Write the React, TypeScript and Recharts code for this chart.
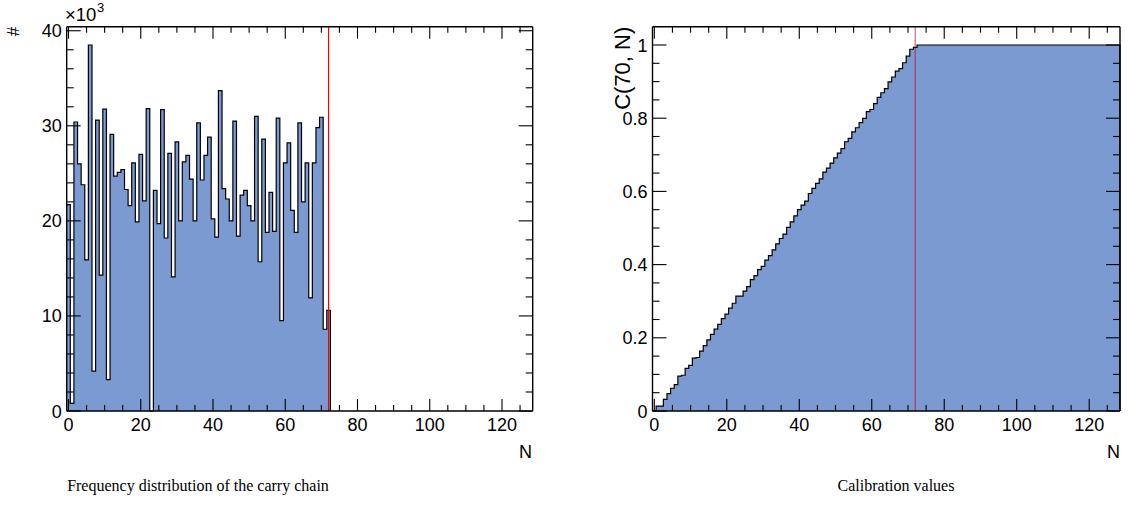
import React from 'react';
import { ComposedChart, Area, XAxis, YAxis, ReferenceLine } from 'recharts';

// ---------------- data ----------------
// Frequency distribution of the carry chain: counts per bin N = 0..72
const freqCounts = [
  21700, 800, 30400, 26000, 23800, 15900, 38500, 4200, 30600, 14300,
  31750, 3300, 29100, 24700, 25100, 25400, 23300, 21600, 26100, 19900,
  27000, 22100, 31800, 0, 23200, 19700, 31700, 18200, 27100, 14100,
  28300, 20000, 26200, 26900, 24400, 20000, 30300, 24300, 26900, 28800,
  20200, 18300, 33700, 23400, 22300, 20000, 30500, 18400, 22700, 23200,
  21600, 20000, 31000, 15700, 28600, 18800, 23000, 18900, 30800, 9500,
  26100, 28200, 21100, 18800, 30300, 22000, 26100, 11900, 26100, 29800,
  30900, 8600, 10600,
];

// Calibration values C(70, N) per bin N = 0..128
const calibration = [
  0, 0.0132, 0.0135, 0.0319, 0.0477, 0.0621, 0.0718, 0.0951, 0.0977, 0.1162,
  0.1249, 0.1442, 0.1462, 0.1638, 0.1788, 0.1941, 0.2095, 0.2236, 0.2367, 0.2525,
  0.2646, 0.281, 0.2944, 0.3137, 0.3137, 0.3278, 0.3397, 0.359, 0.37, 0.3864,
  0.395, 0.4122, 0.4243, 0.4402, 0.4565, 0.4713, 0.4835, 0.5018, 0.5166, 0.5329,
  0.5504, 0.5626, 0.5737, 0.5942, 0.6084, 0.6219, 0.634, 0.6525, 0.6637, 0.6775,
  0.6916, 0.7047, 0.7168, 0.7356, 0.7451, 0.7625, 0.7739, 0.7878, 0.7993, 0.818,
  0.8238, 0.8396, 0.8567, 0.8695, 0.8809, 0.8993, 0.9126, 0.9285, 0.9357, 0.9515,
  0.9696, 0.9884, 0.9936, 1, 1, 1, 1, 1, 1, 1,
  1, 1, 1, 1, 1, 1, 1, 1, 1, 1,
  1, 1, 1, 1, 1, 1, 1, 1, 1, 1,
  1, 1, 1, 1, 1, 1, 1, 1, 1, 1,
  1, 1, 1, 1, 1, 1, 1, 1, 1, 1,
  1, 1, 1, 1, 1, 1, 1, 1, 1,
];

const markerN = 72;
const xDomain: [number, number] = [-0.5, 128.5];
const xTicks = [0, 5, 10, 15, 20, 25, 30, 35, 40, 45, 50, 55, 60, 65, 70, 75, 80, 85, 90, 95, 100, 105, 110, 115, 120, 125];
const freqYMax = 40425;
const freqYTicks = [0, 2000, 4000, 6000, 8000, 10000, 12000, 14000, 16000, 18000, 20000, 22000, 24000, 26000, 28000, 30000, 32000, 34000, 36000, 38000, 40000];
const calYMax = 1.05;
const calYTicks = [0, 0.05, 0.1, 0.15, 0.2, 0.25, 0.3, 0.35, 0.4, 0.45, 0.5, 0.55, 0.6, 0.65, 0.7, 0.75, 0.8, 0.85, 0.9, 0.95, 1];

const leftTitle = 'Frequency distribution of the carry chain';
const rightTitle = 'Calibration values';

// ---------------- styling / layout ----------------
const SANS = '"Liberation Sans", Arial, Helvetica, sans-serif';
const SERIF = '"Liberation Serif", "Times New Roman", serif';
const FILL = '#7b9ad2';
const FRAME = 1.4;
const PLOT_TOP = 26.7;
const PLOT_BOTTOM = 411;
const PLOT_H = PLOT_BOTTOM - PLOT_TOP;
const LEFT_W = 466;
const RIGHT_W = 467.5;

const toSteps = (vals: number[]) =>
  vals.map((v, k) => ({ x: k - 0.5, y: v })).concat([{ x: vals.length - 0.5, y: 0 }]);

const freqData = toSteps(freqCounts);
const calData = toSteps(calibration);

const makeXTick = (plotH: number) => (p: any) => {
  const { x, y, payload } = p;
  const v = payload.value;
  const major = v % 20 === 0;
  const len = major ? 12 : 6;
  return (
    <g>
      <line x1={x} y1={y} x2={x} y2={y - len} stroke="#000" strokeWidth={1.1} />
      <line x1={x} y1={y - plotH} x2={x} y2={y - plotH + len} stroke="#000" strokeWidth={1.1} />
      {major && (
        <text x={x} y={y + 20} textAnchor="middle" fontFamily={SANS} fontSize={18} fill="#000">
          {v}
        </text>
      )}
    </g>
  );
};

const makeYTick = (plotW: number, isMajor: (v: number) => boolean, fmt: (v: number) => string) => (p: any) => {
  const { x, y, payload } = p;
  const v = payload.value;
  const major = isMajor(v);
  const len = major ? 14 : 7;
  return (
    <g>
      <line x1={x} y1={y} x2={x + len} y2={y} stroke="#000" strokeWidth={1.1} />
      <line x1={x + plotW} y1={y} x2={x + plotW - len} y2={y} stroke="#000" strokeWidth={1.1} />
      {major && (
        <text x={x - 5} y={y + 6.5} textAnchor="end" fontFamily={SANS} fontSize={18} fill="#000">
          {fmt(v)}
        </text>
      )}
    </g>
  );
};

const freqYTick = makeYTick(LEFT_W, (v) => v % 10000 === 0, (v) => String(v / 1000));
const calYTick = makeYTick(
  RIGHT_W,
  (v) => Math.abs(v * 5 - Math.round(v * 5)) < 1e-6,
  (v) => (v === 0 ? '0' : v === 1 ? '1' : v.toFixed(1))
);

export default function App() {
  return (
    <div style={{ position: 'absolute', left: 0, top: 0, width: 1129, height: 516, background: '#fff' }}>
      <div style={{ position: 'absolute', left: 0, top: 0 }}>
        <ComposedChart
          width={560}
          height={516}
          data={freqData}
          margin={{ top: PLOT_TOP, right: 560 - 66.7 - LEFT_W, bottom: 516 - PLOT_BOTTOM - 30, left: 6.7 }}
        >
          <Area
            type="stepAfter"
            dataKey="y"
            stroke="#000"
            strokeWidth={1.2}
            fill={FILL}
            fillOpacity={1}
            isAnimationActive={false}
            dot={false}
            activeDot={false}
          />
          <ReferenceLine x={markerN} stroke="#ff0000" strokeWidth={1.2} ifOverflow="visible" />
          <ReferenceLine y={freqYMax} stroke="#000" strokeWidth={FRAME} ifOverflow="visible" />
          <ReferenceLine x={xDomain[1]} stroke="#000" strokeWidth={FRAME} ifOverflow="visible" />
          <XAxis
            dataKey="x"
            type="number"
            domain={xDomain}
            ticks={xTicks}
            interval={0}
            tickSize={0}
            tickMargin={0}
            height={30}
            axisLine={{ stroke: '#000', strokeWidth: FRAME }}
            tickLine={false}
            tick={makeXTick(PLOT_H)}
          />
          <YAxis
            type="number"
            domain={[0, freqYMax]}
            ticks={freqYTicks}
            interval={0}
            tickSize={0}
            tickMargin={0}
            width={60}
            axisLine={{ stroke: '#000', strokeWidth: FRAME }}
            tickLine={false}
            tick={freqYTick}
          />
        </ComposedChart>
      </div>
      <div style={{ position: 'absolute', left: 580, top: 0 }}>
        <ComposedChart
          width={549}
          height={516}
          data={calData}
          margin={{ top: PLOT_TOP, right: 549 - 72.5 - RIGHT_W, bottom: 516 - PLOT_BOTTOM - 30, left: 12.5 }}
        >
          <Area
            type="stepAfter"
            dataKey="y"
            stroke="#000"
            strokeWidth={1.2}
            fill={FILL}
            fillOpacity={1}
            isAnimationActive={false}
            dot={false}
            activeDot={false}
          />
          <ReferenceLine x={markerN} stroke="rgba(190,0,30,0.6)" strokeWidth={1.2} ifOverflow="visible" />
          <ReferenceLine y={calYMax} stroke="#000" strokeWidth={FRAME} ifOverflow="visible" />
          <ReferenceLine x={xDomain[1]} stroke="#000" strokeWidth={FRAME} ifOverflow="visible" />
          <XAxis
            dataKey="x"
            type="number"
            domain={xDomain}
            ticks={xTicks}
            interval={0}
            tickSize={0}
            tickMargin={0}
            height={30}
            axisLine={{ stroke: '#000', strokeWidth: FRAME }}
            tickLine={false}
            tick={makeXTick(PLOT_H)}
          />
          <YAxis
            type="number"
            domain={[0, calYMax]}
            ticks={calYTicks}
            interval={0}
            tickSize={0}
            tickMargin={0}
            width={60}
            axisLine={{ stroke: '#000', strokeWidth: FRAME }}
            tickLine={false}
            tick={calYTick}
          />
        </ComposedChart>
      </div>
      <svg
        width={1129}
        height={516}
        style={{ position: 'absolute', left: 0, top: 0, pointerEvents: 'none' }}
      >
        {/* left chart annotations */}
        <text x={19} y={26.7} transform="rotate(-90 19 26.7)" textAnchor="end" fontFamily={SANS} fontSize={17} fill="#000">
          #
        </text>
        <text x={65} y={21} fontFamily={SANS} fontSize={18.5} fill="#000">
          ×10
        </text>
        <text x={97} y={12} fontFamily={SANS} fontSize={13} fill="#000">
          3
        </text>
        <text x={532} y={458} textAnchor="end" fontFamily={SANS} fontSize={18} fill="#000">
          N
        </text>
        {/* right chart annotations */}
        <text x={630} y={26.7} transform="rotate(-90 630 26.7)" textAnchor="end" fontFamily={SANS} fontSize={22} fill="#000">
          C(70, N)
        </text>
        <text x={1120} y={458} textAnchor="end" fontFamily={SANS} fontSize={18} fill="#000">
          N
        </text>
        {/* captions */}
        <text x={198} y={491} textAnchor="middle" fontFamily={SERIF} fontSize={16} fill="#000">
          {leftTitle}
        </text>
        <text x={896} y={491} textAnchor="middle" fontFamily={SERIF} fontSize={16} fill="#000">
          {rightTitle}
        </text>
      </svg>
    </div>
  );
}
